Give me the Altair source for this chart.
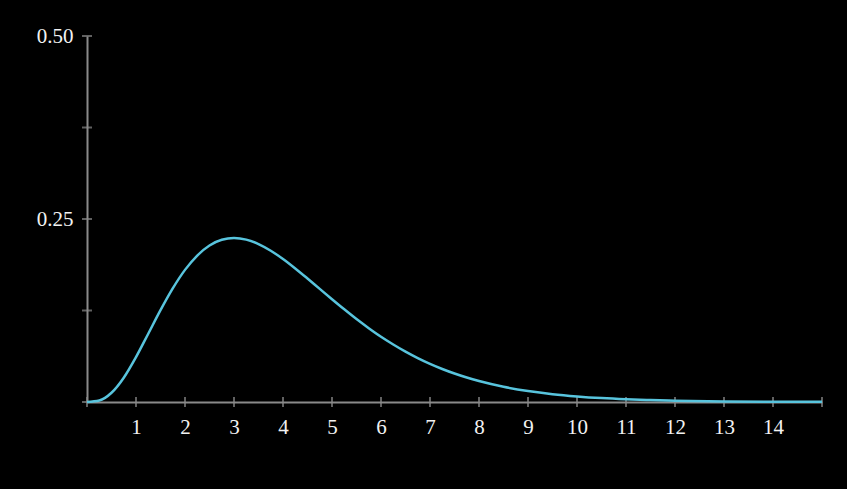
import altair as alt
import pandas as pd
import jinja2

# curve
xs = [0, 0.25, 0.5, 0.75, 1, 1.25, 1.5, 1.75, 2, 2.25, 2.5, 2.75, 3, 3.25, 3.5, 3.75,
      4, 4.25, 4.5, 4.75, 5, 5.25, 5.5, 5.75, 6, 6.25, 6.5, 6.75, 7, 7.25, 7.5, 7.75,
      8, 8.5, 9, 9.5, 10, 10.5, 11, 11.5, 12, 13, 14, 15]
ys = [0, 0.0020, 0.0126, 0.0332, 0.0613, 0.0933, 0.1255, 0.1552, 0.1805, 0.2001,
      0.2138, 0.2216, 0.2240, 0.2218, 0.2158, 0.2067, 0.1954, 0.1825, 0.1687, 0.1545,
      0.1404, 0.1266, 0.1133, 0.1009, 0.0892, 0.0786, 0.0688, 0.0600, 0.0521, 0.0451,
      0.0389, 0.0334, 0.0286, 0.0208, 0.0150, 0.0107, 0.0076, 0.0053, 0.0037, 0.0026,
      0.0018, 0.0008, 0.0004, 0.0002]

x_ticks = list(range(0, 16))
x_labels = list(range(1, 15))
y_ticks = [0, 0.125, 0.25, 0.375, 0.5]
y_labels = [0.25, 0.5]

AXIS = "#8a8a8a"
CURVE = "#58C4DD"
FONT = "Liberation Serif"

curve_df = pd.DataFrame({"x": xs, "y": ys})
xt_df = pd.DataFrame({"x": x_ticks, "y": [0] * len(x_ticks)})
yt_df = pd.DataFrame({"x": [0] * len(y_ticks), "y": y_ticks})

xscale = alt.Scale(domain=[0, 15], nice=False, zero=False)
yscale = alt.Scale(domain=[0, 0.5], nice=False)

xaxis = alt.Axis(values=x_labels, ticks=False, grid=False, domainColor=AXIS, domainWidth=2,
                 labelColor="#f2f2f2", labelFont=FONT, labelFontSize=21, labelPadding=14,
                 title=None, labelFlush=False)
yaxis = alt.Axis(values=y_labels, format=".2f", ticks=False, grid=False, domainColor=AXIS,
                 domainWidth=2, labelColor="#f2f2f2", labelFont=FONT, labelFontSize=21,
                 labelPadding=14, title=None, labelFlush=False)

X = alt.X("x:Q", scale=xscale, axis=xaxis)
Y = alt.Y("y:Q", scale=yscale, axis=yaxis)

xticks = alt.Chart(xt_df).mark_tick(orient="vertical", size=10, thickness=2, color=AXIS).encode(x=X, y=Y)
yticks = alt.Chart(yt_df).mark_tick(orient="horizontal", size=10, thickness=2, color=AXIS).encode(x=X, y=Y)
line = alt.Chart(curve_df).mark_line(color=CURVE, strokeWidth=2.5, interpolate="monotone").encode(x=X, y=Y)

chart = alt.layer(xticks, yticks, line).properties(
    width=735, height=366,
    autosize=alt.AutoSizeParams(type="none"),
    padding={"left": 79, "top": 28, "right": 10, "bottom": 60},
    background="black",
).configure_view(stroke=None)

TEMPLATE = jinja2.Template("""<!DOCTYPE html>
<html>
<head>
<style>html, body { background: #000; }</style>
<script type="text/javascript" src="{{ base_url }}/vega@{{ vega_version }}"></script>
<script type="text/javascript" src="{{ base_url }}/vega-lite@{{ vegalite_version }}"></script>
<script type="text/javascript" src="{{ base_url }}/vega-embed@{{ vegaembed_version }}"></script>
</head>
<body>
<div id="{{ output_div }}"></div>
<script type="text/javascript">
vegaEmbed("#{{ output_div }}", {{ spec }}, {{ embed_options }}).catch(console.error);
</script>
</body>
</html>
""")

chart.save("out.html", embed_options={"renderer": "svg", "actions": False}, template=TEMPLATE)
